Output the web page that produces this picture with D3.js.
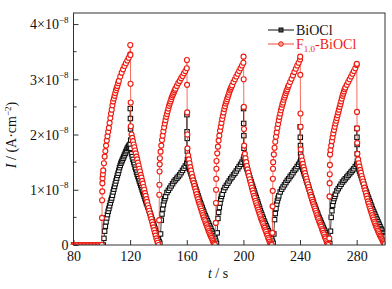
<!DOCTYPE html>
<html>
<head>
<meta charset="utf-8">
<script src="https://cdn.jsdelivr.net/npm/d3@7"></script>
<style>
  body { margin: 0; background: #fff; }
  svg text { font-family: "Liberation Serif", "Times New Roman", serif; }
</style>
</head>
<body>
<svg id="chart"></svg>
<script>
// photocurrent, units of 1e-8 A/cm2
const seriesNames = ["BiOCl", "F1.0-BiOCl"];
const xTicks = [80, 120, 160, 200, 240, 280];
const xMinor = [100, 140, 180, 220, 260, 300];
const yTicks = [0, 1, 2, 3, 4];
const yMinor = [0.5, 1.5, 2.5, 3.5];

const bioclData = [
  [80,0],[81,0],[82,0],[83,0],[84,0],[85,0],[86,0],[87,0],[88,0],[89,0],[90,0],[91,0],[92,0],[93,0],[94,0],[95,0],[96,0],[97,0],[98,0],[99,0],[100,0],[101,0],
  [101.5,0.12],[102,0.25],[102.5,0.34],[103,0.42],[103.5,0.49],[104,0.55],[104.5,0.61],[105,0.66],[105.5,0.71],[106,0.76],[106.5,0.81],[107,0.85],[107.5,0.9],[108,0.96],[108.5,1.01],[109,1.06],[109.5,1.11],[110,1.16],[110.5,1.21],[111,1.26],[111.5,1.3],[112,1.35],[112.5,1.4],[113,1.44],[113.5,1.48],[114,1.51],[114.5,1.54],[115,1.57],[115.5,1.6],[116,1.63],[116.5,1.66],[117,1.69],[117.5,1.72],[118,1.75],[118.5,1.77],[119,1.79],[119.5,1.81],[120,1.82],
  [120.1,2.47],[120.2,2.29],[120.3,2.1],[120.4,1.9],[120.5,1.75],
  [121,1.65],[121.5,1.6],[122,1.55],[122.5,1.5],[123,1.46],[123.5,1.41],[124,1.37],[124.5,1.32],[125,1.28],[125.5,1.24],[126,1.2],[126.5,1.16],[127,1.12],[127.5,1.08],[128,1.04],[128.5,1.0],[129,0.96],[129.5,0.92],[130,0.88],[130.5,0.84],[131,0.8],[131.5,0.76],[132,0.73],[132.5,0.69],[133,0.66],[133.5,0.62],[134,0.58],[134.5,0.54],[135,0.5],[135.5,0.46],[136,0.42],[136.5,0.38],[137,0.34],[137.5,0.3],[138,0.26],[138.5,0.22],[139,0.18],[139.5,0.14],[140,0.1],[140.5,0.06],[141,0.03],
  [141.5,0.2],[142,0.45],[142.5,0.56],[143,0.65],[143.5,0.73],[144,0.8],[144.5,0.84],[145,0.88],[146,0.95],[147,0.99],[148,1.03],[149,1.07],[150,1.11],[151,1.15],[152,1.18],[153,1.21],[154,1.24],[155,1.27],[156,1.31],[157,1.35],[158,1.39],[159,1.43],[160,1.48],
  [160.1,2.36],[160.2,2.05],[160.3,1.93],[160.4,1.7],[160.5,1.55],
  [161,1.45],[161.5,1.41],[162,1.37],[162.5,1.33],[163,1.29],[163.5,1.25],[164,1.21],[164.5,1.17],[165,1.13],[165.5,1.09],[166,1.05],[166.5,1.01],[167,0.97],[167.5,0.93],[168,0.89],[168.5,0.85],[169,0.81],[169.5,0.77],[170,0.74],[170.5,0.7],[171,0.67],[171.5,0.63],[172,0.6],[172.5,0.56],[173,0.53],[173.5,0.5],[174,0.47],[174.5,0.44],[175,0.41],[175.5,0.38],[176,0.35],[176.5,0.32],[177,0.29],[177.5,0.26],[178,0.23],[178.5,0.2],[179,0.17],[179.5,0.14],[180,0.11],[180.5,0.07],[181,0.03],
  [181.5,0.22],[182,0.48],[182.5,0.59],[183,0.68],[183.5,0.76],[184,0.83],[184.5,0.88],[185,0.92],[186,0.99],[187,1.04],[188,1.08],[189,1.12],[190,1.16],[191,1.2],[192,1.23],[193,1.27],[194,1.3],[195,1.34],[196,1.38],[197,1.42],[198,1.46],[199,1.5],[200,1.55],
  [200.1,2.47],[200.2,2.2],[200.3,1.98],[200.4,1.75],[200.5,1.6],
  [201,1.5],[201.5,1.46],[202,1.42],[202.5,1.38],[203,1.34],[203.5,1.3],[204,1.26],[204.5,1.22],[205,1.18],[205.5,1.14],[206,1.1],[206.5,1.06],[207,1.02],[207.5,0.98],[208,0.94],[208.5,0.9],[209,0.86],[209.5,0.82],[210,0.78],[210.5,0.74],[211,0.7],[211.5,0.66],[212,0.62],[212.5,0.58],[213,0.55],[213.5,0.51],[214,0.48],[214.5,0.44],[215,0.41],[215.5,0.38],[216,0.35],[216.5,0.32],[217,0.29],[217.5,0.26],[218,0.23],[218.5,0.2],[219,0.17],[219.5,0.14],[220,0.11],[220.5,0.07],[221,0.03],
  [221.5,0.2],[222,0.46],[222.5,0.57],[223,0.66],[223.5,0.74],[224,0.8],[224.5,0.85],[225,0.89],[226,0.96],[227,1.01],[228,1.05],[229,1.09],[230,1.13],[231,1.17],[232,1.2],[233,1.24],[234,1.27],[235,1.31],[236,1.35],[237,1.38],[238,1.42],[239,1.46],[240,1.5],
  [240.1,2.14],[240.2,1.95],[240.3,1.8],[240.4,1.65],[240.5,1.55],
  [241,1.45],[241.5,1.41],[242,1.37],[242.5,1.33],[243,1.29],[243.5,1.25],[244,1.21],[244.5,1.17],[245,1.13],[245.5,1.09],[246,1.05],[246.5,1.01],[247,0.97],[247.5,0.93],[248,0.89],[248.5,0.85],[249,0.81],[249.5,0.77],[250,0.73],[250.5,0.7],[251,0.66],[251.5,0.63],[252,0.59],[252.5,0.56],[253,0.52],[253.5,0.49],[254,0.46],[254.5,0.43],[255,0.4],[255.5,0.37],[256,0.34],[256.5,0.31],[257,0.28],[257.5,0.25],[258,0.22],[258.5,0.19],[259,0.16],[259.5,0.13],[260,0.1],[260.5,0.06],[261,0.03],
  [261.5,0.25],[262,0.5],[262.5,0.62],[263,0.72],[263.5,0.79],[264,0.84],[264.5,0.88],[265,0.92],[266,0.98],[267,1.02],[268,1.06],[269,1.1],[270,1.14],[271,1.17],[272,1.2],[273,1.23],[274,1.26],[275,1.29],[276,1.32],[277,1.35],[278,1.38],[279,1.42],[280,1.46],
  [280.1,2.11],[280.2,1.95],[280.3,1.82],[280.4,1.65],[280.5,1.52],
  [281,1.42],[281.5,1.38],[282,1.34],[282.5,1.3],[283,1.26],[283.5,1.22],[284,1.18],[284.5,1.14],[285,1.1],[285.5,1.06],[286,1.02],[286.5,0.98],[287,0.95],[287.5,0.91],[288,0.87],[288.5,0.84],[289,0.8],[289.5,0.77],[290,0.73],[290.5,0.7],[291,0.66],[291.5,0.63],[292,0.6],[292.5,0.57],[293,0.54],[293.5,0.51],[294,0.48],[294.5,0.45],[295,0.42],[295.5,0.39],[296,0.36],[296.5,0.33],[297,0.3],[297.5,0.28],[298,0.25],[298.5,0.22],[299,0.2],[299.5,0.17],[300,0.15]
];

const f10Data = [
  [80,0],[81,0],[82,0],[83,0],[84,0],[85,0],[86,0],[87,0],[88,0],[89,0],[90,0],[91,0],[92,0],[93,0],[94,0],[95,0],[96,0],[97,0],[98,0],[99,0],[100,0],
  [100.1,0.49],[100.2,0.81],[100.3,0.97],[100.4,1.12],[100.5,1.21],[100.75,1.28],[101,1.35],[101.5,1.48],[102,1.6],[102.5,1.7],[103,1.8],[103.5,1.89],[104,1.97],[104.5,2.05],[105,2.12],[105.5,2.21],[106,2.3],[106.5,2.38],[107,2.45],[107.5,2.53],[108,2.6],[108.5,2.65],[109,2.7],[109.5,2.75],[110,2.8],[110.5,2.84],[111,2.88],[111.5,2.93],[112,2.97],[113,3.05],[114,3.12],[115,3.18],[116,3.24],[117,3.29],[118,3.34],[119,3.39],[120,3.45],
  [120.1,3.62],[120.2,3.44],[120.3,2.92],[120.4,2.58],[120.5,2.15],
  [121,2.0],[121.5,1.94],[122,1.88],[122.5,1.82],[123,1.77],[123.5,1.71],[124,1.66],[124.5,1.6],[125,1.55],[125.5,1.49],[126,1.44],[126.5,1.38],[127,1.33],[127.5,1.27],[128,1.22],[128.5,1.16],[129,1.11],[129.5,1.05],[130,1.0],[130.5,0.94],[131,0.89],[131.5,0.83],[132,0.78],[132.5,0.72],[133,0.67],[133.5,0.62],[134,0.57],[134.5,0.52],[135,0.47],[135.5,0.42],[136,0.37],[136.5,0.32],[137,0.27],[137.5,0.22],[138,0.17],[138.5,0.12],[139,0.08],[139.5,0.04],[140,0],
  [140.5,0.45],[140.6,0.91],[140.7,1.09],[140.8,1.33],[140.9,1.46],[141,1.57],[141.5,1.69],[142,1.8],[142.5,1.9],[143,1.98],[143.5,2.06],[144,2.13],[144.5,2.2],[145,2.26],[145.5,2.32],[146,2.37],[146.5,2.42],[147,2.47],[147.5,2.52],[148,2.56],[148.5,2.6],[149,2.64],[149.5,2.68],[150,2.71],[150.5,2.74],[151,2.77],[151.5,2.8],[152,2.83],[153,2.88],[154,2.93],[155,2.97],[156,3.02],[157,3.06],[158,3.11],[159,3.15],[160,3.2],
  [160.1,3.35],[160.2,2.9],[160.3,2.4],[160.4,2.0],[160.5,1.75],
  [161,1.62],[161.5,1.55],[162,1.48],[162.5,1.41],[163,1.35],[163.5,1.29],[164,1.23],[164.5,1.17],[165,1.12],[165.5,1.07],[166,1.02],[166.5,0.97],[167,0.92],[167.5,0.87],[168,0.83],[168.5,0.78],[169,0.74],[169.5,0.7],[170,0.66],[170.5,0.62],[171,0.58],[171.5,0.54],[172,0.5],[172.5,0.46],[173,0.43],[173.5,0.39],[174,0.36],[174.5,0.32],[175,0.29],[175.5,0.25],[176,0.22],[176.5,0.19],[177,0.16],[177.5,0.13],[178,0.1],[178.5,0.07],[179,0.04],[179.5,0.02],[180,0],
  [180.5,0.4],[180.6,0.76],[180.7,1.0],[180.8,1.2],[180.9,1.38],[181,1.52],[181.5,1.66],[182,1.78],[182.5,1.89],[183,1.98],[183.5,2.07],[184,2.14],[184.5,2.21],[185,2.28],[185.5,2.34],[186,2.4],[186.5,2.46],[187,2.51],[187.5,2.56],[188,2.6],[188.5,2.64],[189,2.68],[189.5,2.72],[190,2.76],[190.5,2.8],[191,2.83],[191.5,2.86],[192,2.89],[193,2.95],[194,3.0],[195,3.05],[196,3.1],[197,3.15],[198,3.2],[199,3.25],[200,3.3],
  [200.1,3.41],[200.2,3.0],[200.3,2.5],[200.4,2.1],[200.5,1.8],
  [201,1.65],[201.5,1.57],[202,1.5],[202.5,1.43],[203,1.37],[203.5,1.31],[204,1.25],[204.5,1.19],[205,1.14],[205.5,1.09],[206,1.04],[206.5,0.99],[207,0.94],[207.5,0.89],[208,0.85],[208.5,0.8],[209,0.76],[209.5,0.72],[210,0.68],[210.5,0.64],[211,0.6],[211.5,0.56],[212,0.52],[212.5,0.48],[213,0.45],[213.5,0.41],[214,0.38],[214.5,0.34],[215,0.31],[215.5,0.27],[216,0.24],[216.5,0.2],[217,0.17],[217.5,0.13],[218,0.1],[218.5,0.06],[219,0.03],[219.5,0.01],[220,0],
  [220.5,0.22],[220.6,0.7],[220.7,0.98],[220.8,1.2],[220.9,1.38],[221,1.5],[221.5,1.64],[222,1.76],[222.5,1.87],[223,1.96],[223.5,2.04],[224,2.12],[224.5,2.19],[225,2.26],[225.5,2.32],[226,2.38],[226.5,2.44],[227,2.49],[227.5,2.54],[228,2.58],[228.5,2.63],[229,2.67],[229.5,2.71],[230,2.75],[230.5,2.79],[231,2.82],[231.5,2.86],[232,2.89],[233,2.95],[234,3.01],[235,3.07],[236,3.13],[237,3.19],[238,3.25],[239,3.3],[240,3.36],
  [240.1,3.41],[240.2,3.08],[240.3,2.38],[240.4,2.14],[240.5,1.73],
  [241,1.6],[241.5,1.53],[242,1.47],[242.5,1.41],[243,1.36],[243.5,1.3],[244,1.25],[244.5,1.2],[245,1.15],[245.5,1.1],[246,1.05],[246.5,1.0],[247,0.96],[247.5,0.91],[248,0.87],[248.5,0.82],[249,0.78],[249.5,0.74],[250,0.7],[250.5,0.66],[251,0.62],[251.5,0.58],[252,0.54],[252.5,0.5],[253,0.47],[253.5,0.43],[254,0.4],[254.5,0.36],[255,0.33],[255.5,0.29],[256,0.26],[256.5,0.22],[257,0.19],[257.5,0.15],[258,0.12],[258.5,0.08],[259,0.05],[259.5,0.02],[260,0],
  [260.7,0.12],[260.8,0.88],[260.9,1.12],[261,1.28],[261.1,1.45],[261.2,1.64],[261.5,1.72],[262,1.8],[262.5,1.88],[263,1.95],[263.5,2.02],[264,2.08],[264.5,2.14],[265,2.2],[265.5,2.25],[266,2.3],[266.5,2.35],[267,2.4],[267.5,2.45],[268,2.5],[268.5,2.55],[269,2.6],[269.5,2.65],[270,2.7],[270.5,2.74],[271,2.78],[271.5,2.82],[272,2.85],[273,2.9],[274,2.95],[275,3.0],[276,3.05],[277,3.1],[278,3.15],[279,3.2],[280,3.26],
  [280.1,3.28],[280.2,2.41],[280.3,2.11],[280.4,1.85],[280.5,1.65],
  [281,1.55],[281.5,1.48],[282,1.42],[282.5,1.36],[283,1.31],[283.5,1.25],[284,1.2],[284.5,1.15],[285,1.1],[285.5,1.04],[286,0.99],[286.5,0.94],[287,0.89],[287.5,0.84],[288,0.79],[288.5,0.75],[289,0.7],[289.5,0.66],[290,0.62],[290.5,0.58],[291,0.54],[291.5,0.5],[292,0.46],[292.5,0.42],[293,0.39],[293.5,0.35],[294,0.32],[294.5,0.29],[295,0.26],[295.5,0.23],[296,0.2],[296.5,0.17],[297,0.15],[297.5,0.12],[298,0.1],[298.5,0.07],[299,0.05],[299.5,0.03],[300,0.02]
];

const margin = {top: 13, right: 7, bottom: 44, left: 73.5};
const width = 392 - margin.left - margin.right;
const height = 289 - margin.top - margin.bottom;
const black = "#111";
const red = "#ee1d12";
const serif = "'Liberation Serif', 'Times New Roman', serif";

const svg = d3.select("#chart")
    .attr("width", 392)
    .attr("height", 289)
    .append("g")
    .attr("transform", `translate(${margin.left},${margin.top})`);

const x = d3.scaleLinear().domain([80, 300]).range([0, width]);
const y = d3.scaleLinear().domain([0, 4.2]).range([height, 0]);

svg.append("clipPath").attr("id", "clip")
    .append("rect").attr("x", -3).attr("width", width + 3).attr("height", height);

// X axis
const xAxis = svg.append("g")
    .attr("transform", `translate(0,${height})`)
    .call(d3.axisBottom(x).tickValues(xTicks).tickSize(-5).tickPadding(6).tickFormat(d3.format("d")));
xAxis.attr("font-family", null).attr("font-size", null);
xAxis.select(".domain").remove();
xAxis.selectAll("text").style("font-family", serif).attr("font-size", "14px").attr("fill", "#111");
xAxis.selectAll("line").attr("stroke", "#333");
svg.append("g").selectAll("line")
    .data(xMinor).enter().append("line")
    .attr("x1", d => x(d)).attr("x2", d => x(d))
    .attr("y1", height).attr("y2", height - 3)
    .attr("stroke", "#333");

// Y axis
const yAxis = svg.append("g")
    .call(d3.axisLeft(y).tickValues(yTicks).tickSize(-5).tickPadding(5).tickFormat(""));
yAxis.attr("font-family", null).attr("font-size", null);
yAxis.select(".domain").remove();
yAxis.selectAll("line").attr("stroke", "#333");
yAxis.selectAll(".tick text").each(function(d) {
    const t = d3.select(this).style("font-family", serif).attr("font-size", "14px").attr("fill", "#111").attr("dy", "0.35em");
    if (d === 0) { t.text("0"); return; }
    t.append("tspan").text(d + "\u00d710");
    t.append("tspan").attr("font-size", "9px").attr("dy", "-0.75em").text("\u22128");
});
svg.append("g").selectAll("line")
    .data(yMinor).enter().append("line")
    .attr("x1", 0).attr("x2", 3)
    .attr("y1", d => y(d)).attr("y2", d => y(d))
    .attr("stroke", "#333");

// data
const line = d3.line().x(d => x(d[0])).y(d => y(d[1]));
const plot = svg.append("g").attr("clip-path", "url(#clip)");

plot.append("path").datum(bioclData)
    .attr("fill", "none").attr("stroke", black).attr("stroke-width", 0.8)
    .attr("d", line);
plot.selectAll(".sq").data(bioclData).enter().append("rect")
    .attr("class", "sq")
    .attr("x", d => x(d[0]) - 2.2).attr("y", d => y(d[1]) - 2.2)
    .attr("width", 4.4).attr("height", 4.4)
    .attr("fill", "#fff").attr("stroke", black).attr("stroke-width", 1.1);

plot.append("path").datum(f10Data)
    .attr("fill", "none").attr("stroke", "#f04a36").attr("stroke-width", 0.8)
    .attr("d", line);
plot.selectAll(".ci").data(f10Data).enter().append("circle")
    .attr("class", "ci")
    .attr("cx", d => x(d[0])).attr("cy", d => y(d[1]))
    .attr("r", 2.5)
    .attr("fill", "#fff").attr("stroke", red).attr("stroke-width", 1.15);

// frame
svg.append("rect")
    .attr("width", width).attr("height", height)
    .attr("fill", "none").attr("stroke", "#333").attr("stroke-width", 1);

// legend
const legend = svg.append("g").attr("transform", `translate(${268 - margin.left},${30 - margin.top})`);
legend.append("line").attr("x1", 0).attr("x2", 26).attr("y1", 0).attr("y2", 0).attr("stroke", black);
legend.append("rect").attr("x", 11).attr("y", -2).attr("width", 4).attr("height", 4)
    .attr("fill", "#444").attr("stroke", black);
legend.append("text").attr("x", 28).attr("y", 5).style("font-family", serif)
    .attr("font-size", "14px").attr("fill", "#111").text(seriesNames[0]);
legend.append("line").attr("x1", 0).attr("x2", 26).attr("y1", 14).attr("y2", 14).attr("stroke", "#f04a36");
legend.append("circle").attr("cx", 13).attr("cy", 14).attr("r", 2.3)
    .attr("fill", "#f8a090").attr("stroke", red);
const lt = legend.append("text").attr("x", 28).attr("y", 19).style("font-family", serif)
    .attr("font-size", "14px").attr("fill", red);
lt.append("tspan").text("F");
lt.append("tspan").attr("font-size", "9px").attr("dy", "3").text("1.0");
lt.append("tspan").attr("dy", "-3").text("-BiOCl");

// axis titles
const xt = svg.append("text")
    .attr("x", 218 - margin.left).attr("y", 278 - margin.top).style("font-family", serif)
    .attr("text-anchor", "middle").attr("font-size", "14px").attr("fill", "#111");
xt.append("tspan").attr("font-style", "italic").text("t");
xt.append("tspan").text(" / s");

const yt = svg.append("text")
    .attr("transform", `translate(${16 - margin.left},${135 - margin.top}) rotate(-90)`)
    .style("font-family", serif)
    .attr("text-anchor", "middle").attr("font-size", "14px").attr("fill", "#111");
yt.append("tspan").attr("font-style", "italic").text("I");
yt.append("tspan").text(" / (A\u00b7cm");
yt.append("tspan").attr("font-size", "9px").attr("dy", "-5").text("\u22122");
yt.append("tspan").attr("dy", "5").text(")");
</script>
</body>
</html>
